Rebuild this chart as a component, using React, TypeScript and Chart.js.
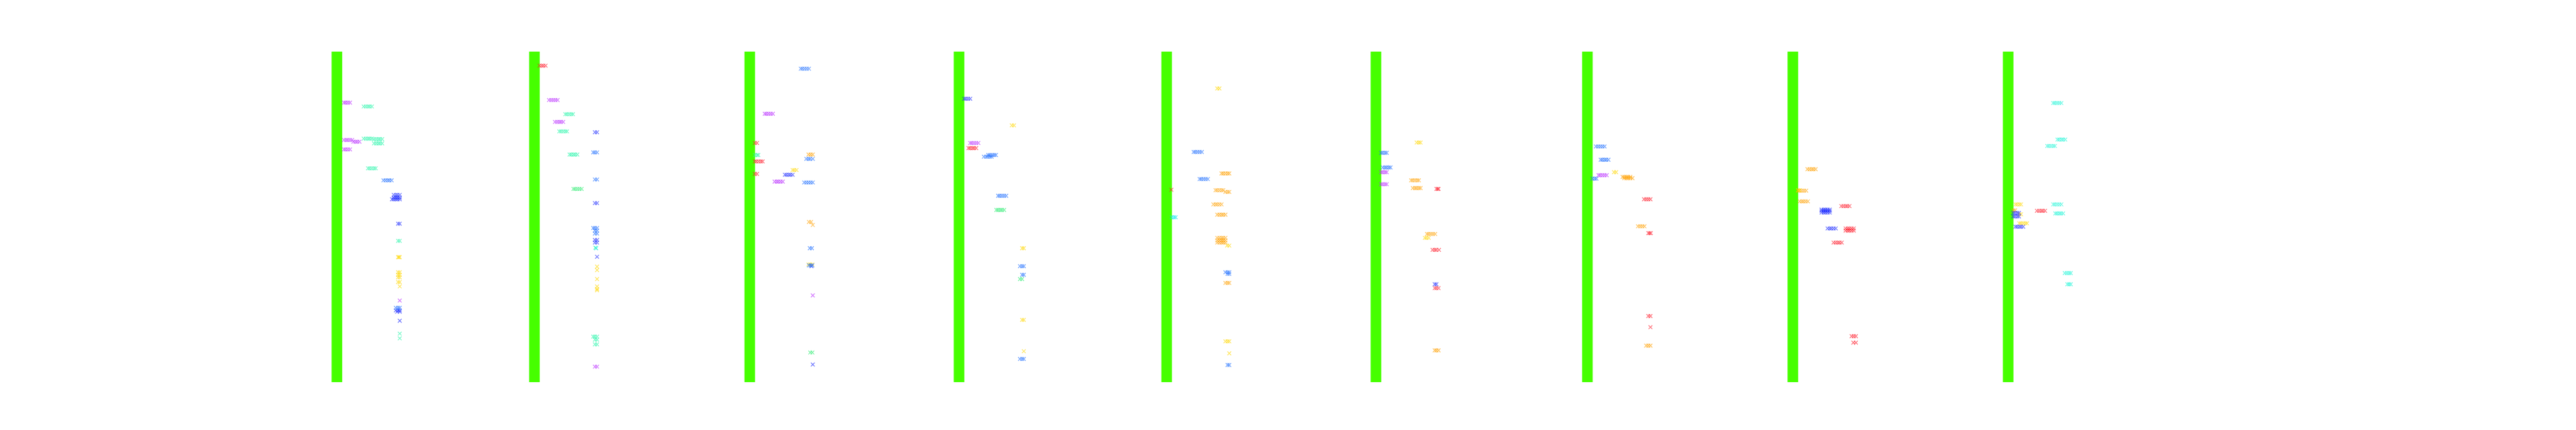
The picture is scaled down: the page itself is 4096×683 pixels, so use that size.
import React, { useEffect, useRef } from "react";
import { Chart, registerables } from "chart.js";
Chart.register(...registerables);

const W = 4096;
const H = 683;
const S = 0.682;

// x positions of the nine green bars (data units)
const barPositions = [3.55, 49.6, 99.8, 148.6, 197.0, 245.8, 295.1, 343.0, 393.2];
const barTop = 0;
const barBottom = 77;

// Each run: [y, x1, x2, ...]
const magentaRuns = [
  [11.9, 5.2, 5.6, 6.1, 6.6], [20.6, 5.2, 5.7, 6.1, 6.6, 7.1], [21.0, 7.4, 7.9, 8.3, 8.8], [22.8, 5.2, 5.6, 6.1, 6.6], [58.0, 18.2],
  [11.3, 53.0, 53.5, 54.0, 54.5, 55.0], [16.4, 54.4, 54.9, 55.4, 55.8, 56.3], [73.4, 63.7, 64.2],
  [14.5, 103.3, 103.7, 104.2, 104.7, 105.2], [30.3, 105.6, 106.1, 106.5, 107.0, 107.5], [56.8, 114.5],
  [21.3, 151.2, 151.6, 152.1, 152.6, 153.1],
  [28.1, 247.0, 247.4, 247.9, 248.3], [30.9, 247.0, 247.4, 247.9, 248.3],
  [28.8, 297.7, 298.1, 298.6, 299.1, 299.6],
];

const aquaRuns = [
  [12.8, 9.8, 10.3, 10.8, 11.2, 11.7], [20.3, 9.8, 10.3, 10.8, 11.2, 11.7], [20.4, 12.2, 12.7, 13.2, 13.6, 14.1],
  [21.4, 12.2, 12.7, 13.2, 13.6, 14.1], [27.2, 10.8, 11.2, 11.7, 12.2, 12.6], [44.1, 17.8, 18.2], [65.7, 18.2], [66.8, 18.2],
  [14.6, 56.8, 57.2, 57.7, 58.2, 58.6], [18.6, 55.4, 55.8, 56.3, 56.8, 57.2], [24.0, 57.8, 58.2, 58.7, 59.1, 59.6],
  [45.7, 63.8], [66.4, 63.3, 63.7, 64.2], [67.1, 63.7, 64.2], [68.2, 63.7, 64.2],
  [24.1, 101.0, 101.5, 101.8],
];

const turquoiseRuns = [
  [12.0, 403.7, 404.1, 404.6, 405.1, 405.6], [20.5, 404.7, 405.1, 405.6, 406.0, 406.5], [22.0, 402.3, 402.7, 403.2, 403.7, 404.1],
  [35.6, 403.7, 404.1, 404.6, 405.1, 405.6], [37.7, 404.2, 404.6, 405.1, 405.5, 406.0], [51.6, 406.4, 406.9, 407.4, 407.8],
  [54.2, 407.0, 407.4, 407.8],
];

const greenRuns = [
  [32.0, 58.7, 59.1, 59.6, 60.1, 60.6], [70.1, 113.9, 114.4], [36.9, 157.3, 157.7, 158.2, 158.6, 159.1], [53.0, 162.8, 163.3],
];

const cyanRuns = [
  [45.8, 64.0], [38.6, 198.2, 198.7, 199.1],
];

const lightBlueRuns = [
  [30.0, 14.4, 14.9, 15.4, 15.8, 16.3], [59.7, 17.3, 17.8, 18.2],
  [23.5, 63.3, 63.7, 64.2], [29.8, 63.7, 64.2], [41.1, 63.3, 63.7, 64.2], [41.7, 63.7, 64.2], [42.4, 63.7, 64.2],
  [4.0, 111.7, 112.1, 112.6, 113.1, 113.6], [25.0, 113.0, 113.5, 113.9, 114.5], [30.5, 112.5, 113.0, 113.5, 114.0, 114.5],
  [45.8, 113.8, 114.3], [49.8, 113.6, 114.0, 114.4],
  [24.1, 155.4, 155.8, 156.3, 156.8, 157.2], [24.5, 154.4, 154.9, 155.3, 155.8, 156.2], [33.6, 157.7, 158.1, 158.6, 159.1, 159.6],
  [50.0, 162.8, 163.3, 163.7], [52.0, 163.3, 163.7], [71.6, 162.8, 163.3, 163.7],
  [23.4, 203.3, 203.7, 204.2, 204.7, 205.2], [29.7, 204.7, 205.1, 205.6, 206.1, 206.6], [51.4, 210.7, 211.2, 211.6],
  [51.8, 211.2, 211.6], [73.0, 211.2, 211.6],
  [23.6, 247.0, 247.4, 247.9, 248.3], [27.0, 247.4, 247.9, 248.3, 248.8, 249.2],
  [22.1, 297.1, 297.6, 298.1, 298.6, 299.1], [25.2, 298.2, 298.6, 299.1, 299.5, 300.0], [29.6, 296.3, 296.8, 297.2],
];

const blueRuns = [
  [33.4, 16.8, 17.3, 17.7, 18.2], [34.0, 16.8, 17.3, 17.7, 18.2], [34.4, 16.4, 16.8, 17.3, 17.7, 18.2], [40.1, 17.8, 18.2],
  [60.3, 17.3, 17.8, 18.2], [60.6, 17.6, 18.2], [62.7, 18.2],
  [18.8, 63.7, 64.2], [35.3, 63.7, 64.2], [43.9, 63.7, 64.2], [44.5, 63.7, 64.2], [47.8, 64.2],
  [28.7, 108.0, 108.4, 108.9, 109.3, 109.8], [50.0, 114.2], [72.9, 114.5],
  [11.0, 149.8, 150.2, 150.7, 151.2],
  [54.2, 259.5, 259.9],
  [36.8, 349.7, 350.2, 350.6, 351.1, 351.6], [37.1, 349.7, 350.2, 350.6, 351.1, 351.6], [37.5, 349.7, 350.2, 350.6, 351.1, 351.6],
  [41.2, 351.1, 351.6, 352.0, 352.5, 353.0],
  [37.6, 394.4, 394.8, 395.3, 395.7], [38.4, 394.4, 394.8, 395.3, 395.7], [40.8, 394.9, 395.3, 395.8, 396.2, 396.7],
];

const yellowRuns = [
  [47.9, 17.8, 18.0, 18.2], [51.4, 17.8, 18.2], [52.0, 17.8, 18.2], [52.6, 17.8, 18.2], [53.7, 17.8, 18.2], [54.7, 18.2],
  [50.1, 64.2], [50.9, 64.2], [53.0, 64.2], [54.7, 64.2], [55.3, 64.2], [55.6, 64.2],
  [27.6, 109.8, 110.2, 110.7], [49.6, 113.5, 113.9, 114.4],
  [17.2, 160.9, 161.4], [45.8, 163.3, 163.7], [62.5, 163.3, 163.7], [69.8, 163.7],
  [8.6, 208.8, 209.3], [45.2, 211.1, 211.6], [67.5, 210.7, 211.2, 211.6], [70.3, 211.6],
  [21.2, 255.3, 255.8, 256.2], [43.4, 257.2, 257.6, 258.1],
  [28.1, 301.3, 301.8],
  [32.3, 344.2, 344.6],
  [35.6, 394.9, 395.3, 395.8, 396.2], [37.9, 395.8, 396.2], [40.0, 395.8, 396.2, 396.7, 397.2, 397.6],
];

const orangeRuns = [
  [24.0, 113.5, 114.0, 114.5], [39.7, 113.6, 114.1], [40.4, 114.5],
  [28.4, 209.8, 210.2, 210.7, 211.2, 211.6], [32.3, 208.4, 208.8, 209.3, 209.8, 210.2], [32.7, 210.7, 211.2, 211.6],
  [35.6, 207.9, 208.4, 208.8, 209.3, 209.8], [38.0, 208.8, 209.3, 209.8, 210.2, 210.7],
  [43.4, 208.8, 209.3, 209.8, 210.2, 210.7], [44.0, 208.8, 209.3, 209.8, 210.2, 210.7], [44.5, 208.8, 209.3, 209.8, 210.2, 210.7],
  [53.9, 210.7, 211.2, 211.6],
  [30.0, 254.0, 254.4, 254.9, 255.4, 255.8], [31.8, 254.4, 254.9, 255.3, 255.8, 256.2], [42.5, 257.7, 258.1, 258.6, 259.1, 259.6],
  [69.6, 259.5, 259.9, 260.4],
  [29.2, 303.3, 303.7, 304.2, 304.6, 305.1], [29.5, 303.7, 304.2, 304.6, 305.1, 305.6], [40.7, 306.9, 307.4, 307.9, 308.4],
  [68.5, 308.8, 309.3, 309.8],
  [27.4, 346.4, 346.9, 347.4, 347.8, 348.3], [32.4, 344.2, 344.6, 345.1, 345.6, 346.1], [34.9, 344.6, 345.1, 345.5, 346.0, 346.5],
  [37.0, 394.4, 394.8],
];

const redRuns = [
  [3.3, 50.8, 51.3, 51.7, 52.2],
  [21.3, 101.0, 101.5], [25.6, 101.0, 101.4, 101.9, 102.4, 102.8], [28.5, 101.0, 101.5],
  [22.5, 150.8, 151.2, 151.7, 152.1, 152.6],
  [32.2, 198.1],
  [32.0, 259.9, 260.2, 260.4], [46.2, 259.0, 259.5, 259.9, 260.5], [55.1, 259.5, 259.9, 260.4],
  [34.4, 308.3, 308.8, 309.3, 309.8], [42.3, 309.3, 309.6, 309.9], [61.6, 309.3, 309.8], [64.2, 309.8],
  [36.0, 354.3, 354.8, 355.3, 355.7, 356.2], [41.2, 355.3, 355.8, 356.2, 356.7, 357.2], [41.7, 355.3, 355.8, 356.2, 356.7, 357.2],
  [44.5, 352.5, 353.0, 353.5, 353.9, 354.4], [66.3, 356.7, 357.2, 357.7], [67.8, 357.1, 357.7],
  [37.1, 399.9, 400.4, 400.9, 401.3, 401.8],
];

const seriesList: [string, number[][], string][] = [
  ["magenta", magentaRuns, "rgba(185,45,255,0.6)"],
  ["aqua", aquaRuns, "rgba(40,245,170,0.6)"],
  ["turquoise", turquoiseRuns, "rgba(30,245,215,0.6)"],
  ["green", greenRuns, "rgba(40,235,110,0.6)"],
  ["cyan", cyanRuns, "rgba(0,230,240,0.65)"],
  ["lightblue", lightBlueRuns, "rgba(30,110,255,0.6)"],
  ["blue", blueRuns, "rgba(25,40,255,0.6)"],
  ["yellow", yellowRuns, "rgba(255,215,0,0.6)"],
  ["orange", orangeRuns, "rgba(255,160,0,0.6)"],
  ["red", redRuns, "rgba(255,25,40,0.6)"],
];

function runsToPoints(runs: number[][]) {
  const pts: { x: number; y: number }[] = [];
  for (const run of runs) {
    const y = run[0];
    for (let i = 1; i < run.length; i++) pts.push({ x: run[i], y });
  }
  return pts;
}

export default function App() {
  const ref = useRef<HTMLCanvasElement>(null);
  useEffect(() => {
    document.body.style.margin = "0";
    const barDatasets = barPositions.map((x) => ({
      type: "line" as const,
      label: "bar",
      data: [{ x, y: barTop }, { x, y: barBottom }],
      borderColor: "#46ff00",
      backgroundColor: "#46ff00",
      borderWidth: 24.7 * S,
      borderCapStyle: "butt" as const,
      pointRadius: 0,
      showLine: true,
      order: 10,
    }));
    const pointDatasets = seriesList.map(([label, runs, color]) => ({
      type: "scatter" as const,
      label,
      data: runsToPoints(runs),
      pointStyle: "crossRot" as const,
      pointRadius: 4.2,
      pointHoverRadius: 4.2,
      borderWidth: 1.3,
      borderColor: color,
      backgroundColor: color,
      showLine: false,
      order: 1,
    }));
    const chart = new Chart(ref.current as HTMLCanvasElement, {
      type: "scatter",
      data: { datasets: [...barDatasets, ...pointDatasets] as any },
      options: {
        responsive: false,
        animation: false,
        devicePixelRatio: 1,
        layout: {
          padding: { left: 750 * S, right: W - 5400 * S, top: 120 * S, bottom: H - 890 * S },
        },
        plugins: { legend: { display: false }, tooltip: { enabled: false } },
        scales: {
          x: { type: "linear", min: 0, max: 465, display: false },
          y: { type: "linear", min: 0, max: 77, reverse: true, display: false },
        },
      },
    });
    return () => chart.destroy();
  }, []);
  return (
    <div style={{ width: W, height: H, background: "#fff" }}>
      <canvas ref={ref} width={W} height={H} style={{ display: "block" }} />
    </div>
  );
}
